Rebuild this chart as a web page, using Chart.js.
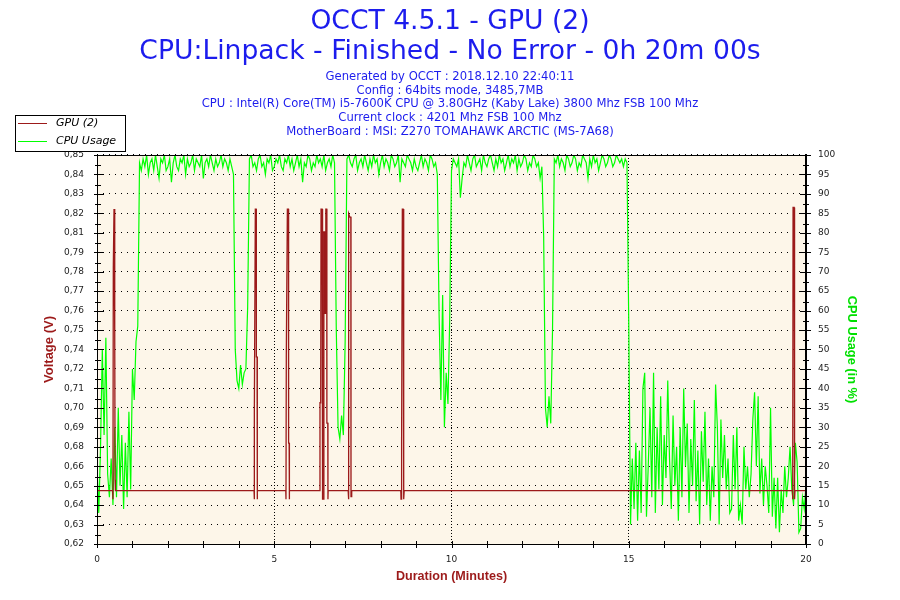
<!DOCTYPE html>
<html>
<head>
<meta charset="utf-8">
<title>OCCT 4.5.1 - GPU (2)</title>
<script src="https://cdn.jsdelivr.net/npm/chart.js@4.4.0/dist/chart.umd.min.js"></script>
<style>
    html, body { margin: 0; padding: 0; background: #fff; }
    #wrap { width: 900px; height: 600px; }
</style>
</head>
<body>
<div id="wrap"><canvas id="occt" width="900" height="600"></canvas></div>
<script>
/* ==================
    DATOS
================== */

const titleLines = ['OCCT 4.5.1 - GPU (2)', 'CPU:Linpack - Finished - No Error - 0h 20m 00s'];
const infoLines = [
    'Generated by OCCT : 2018.12.10 22:40:11',
    'Config : 64bits mode, 3485,7MB',
    'CPU : Intel(R) Core(TM) i5-7600K CPU @ 3.80GHz (Kaby Lake) 3800 Mhz FSB 100 Mhz',
    'Current clock : 4201 Mhz FSB 100 Mhz',
    'MotherBoard : MSI: Z270 TOMAHAWK ARCTIC (MS-7A68)'
];

// GPU (2) voltage, time in minutes
const gpuTime = [
    0, 0.44, 0.45, 0.46, 0.48, 0.50, 0.51, 0.52,
    4.43, 4.437, 4.44, 4.466, 4.49, 4.495, 4.515, 4.52, 4.525,
    5.325, 5.331, 5.34, 5.37, 5.40, 5.405, 5.42, 5.425, 5.43,
    6.285, 6.29, 6.31, 6.32, 6.35, 6.355, 6.37, 6.395, 6.40, 6.43, 6.435, 6.455, 6.48, 6.485, 6.51, 6.515, 6.52,
    7.085, 7.09, 7.10, 7.105, 7.13, 7.16, 7.165, 7.18, 7.185,
    8.57, 8.576, 8.585, 8.60, 8.613, 8.635, 8.64, 8.655, 8.66, 8.665,
    19.62, 19.625, 19.635, 19.665, 19.67, 19.685, 19.69, 20
];
const gpuVolt = [
    0.6515, 0.6515, 0.6465, 0.783, 0.818, 0.745, 0.658, 0.6515,
    0.6515, 0.6465, 0.6975, 0.818, 0.818, 0.7306, 0.7306, 0.6465, 0.6515,
    0.6515, 0.6465, 0.7306, 0.818, 0.818, 0.6797, 0.6797, 0.6465, 0.6515,
    0.6515, 0.7035, 0.7035, 0.818, 0.818, 0.6608, 0.6465, 0.6465, 0.8046, 0.8046, 0.7563, 0.818, 0.818, 0.6915, 0.6915, 0.6465, 0.6515,
    0.6515, 0.6465, 0.6465, 0.8153, 0.8133, 0.8133, 0.648, 0.648, 0.6515,
    0.6515, 0.6465, 0.6797, 0.6797, 0.818, 0.818, 0.7719, 0.7719, 0.6465, 0.6515,
    0.6515, 0.6465, 0.819, 0.819, 0.693, 0.6465, 0.6515, 0.6515
];

// CPU usage (%), one value every 0.05 min, one row per minute
const cpuStepMin = 0.05;
const cpuUsage = [
    20, 8, 25, 50, 28, 53, 18, 12, 22, 10, 30, 12, 35, 15, 28, 9, 26, 12, 34, 14,
    45, 37, 52, 56, 98, 96, 99, 97, 100, 95, 98, 99, 96, 100, 97, 94, 99, 98, 100, 96,
    97, 99, 93, 98, 100, 97, 96, 99, 98, 100, 95, 99, 97, 98, 100, 96, 99, 98, 97, 100,
    94, 98, 99, 97, 100, 98, 96, 99, 97, 98, 100, 97, 99, 98, 96, 99, 97, 95, 50, 42,
    40, 46, 41, 44, 45, 61, 99, 100, 97, 98, 96, 99, 100, 97, 98, 95, 99, 98, 100, 96,
    97, 99, 98, 100, 97, 96, 99, 98, 100, 97, 99, 96, 98, 100, 97, 99, 93, 98, 97, 100,
    99, 96, 98, 97, 100, 98, 99, 97, 100, 96, 98, 99, 97, 100, 98, 55, 30, 27, 33, 28,
    52, 99, 100, 98, 97, 99, 100, 96, 98, 99, 97, 100, 98, 96, 99, 97, 100, 98, 99, 95,
    98, 100, 97, 99, 98, 96, 100, 99, 97, 98, 100, 93, 99, 98, 97, 100, 99, 98, 96, 99,
    97, 96, 98, 100, 97, 99, 98, 96, 100, 99, 97, 98, 95, 59, 37, 64, 30, 44, 36, 58,
    96, 99, 98, 97, 99, 89, 94, 98, 97, 100, 98, 96, 99, 100, 97, 98, 99, 96, 100, 98,
    97, 99, 100, 98, 96, 99, 97, 100, 98, 99, 96, 98, 100, 97, 99, 98, 100, 96, 99, 97,
    98, 100, 99, 96, 98, 97, 100, 99, 97, 98, 94, 97, 79, 35, 30, 38, 31, 55, 99, 98,
    100, 97, 99, 98, 96, 100, 99, 97, 98, 100, 99, 96, 98, 97, 100, 99, 98, 94, 99, 97,
    100, 98, 99, 96, 98, 100, 99, 97, 98, 100, 99, 97, 98, 100, 99, 98, 99, 97, 99, 98,
    57, 5, 22, 9, 26, 6, 24, 8, 40, 44, 7, 20, 35, 12, 44, 8, 30, 14, 38, 10,
    28, 17, 42, 22, 9, 33, 15, 25, 6, 30, 12, 40, 20, 31, 8, 27, 15, 37, 11, 24,
    5, 29, 16, 34, 10, 22, 6, 20, 12, 41, 30, 5, 32, 17, 28, 14, 22, 8, 9, 28,
    14, 30, 6, 10, 5, 25, 14, 20, 12, 18, 32, 39, 20, 38, 13, 22, 10, 20, 15, 8,
    35, 7, 17, 4, 17, 3, 14, 8, 20, 12, 17, 25, 14, 10, 26, 21, 3, 4, 12, 9,
    15
];

// Voltage axis: 20 divisions between min and max, labels as OCCT prints them
const voltMin = 0.62;
const voltMax = 0.85;
const voltTickLabels = ['0,62', '0,63', '0,64', '0,65', '0,66', '0,68', '0,69', '0,70', '0,71', '0,72', '0,74',
    '0,75', '0,76', '0,77', '0,78', '0,79', '0,81', '0,82', '0,83', '0,84', '0,85'];
const durationLabelEvery = 5;

/* ==================
    ESTILO
================== */

const azul = '#1c1ced';
const rojo = '#9c1a1a';
const verde = '#00ff00';
const fondo = '#fdf6e9';
const fuente = "'DejaVu Sans', Verdana, sans-serif";
const fuenteEje = "'Liberation Sans', Arial, sans-serif";

// Fondo del area, marco, marcas de escala y leyenda
const marcoOCCT = {
    id: 'marcoOCCT',
    beforeDraw(chart) {
        const { ctx, chartArea: a } = chart;
        ctx.save();
        ctx.fillStyle = fondo;
        ctx.fillRect(a.left, a.top, a.right - a.left, a.bottom - a.top);
        ctx.restore();
    },
    afterDraw(chart) {
        const { ctx, chartArea: a, scales } = chart;
        ctx.save();
        ctx.strokeStyle = '#000';
        ctx.lineWidth = 1;
        ctx.strokeRect(a.left + 0.5, a.top + 0.5, a.right - a.left - 1, a.bottom - a.top);

        // marcas verticales (izquierda y derecha)
        const yC = scales.yC;
        const ys = yC.ticks.map(t => Math.round(yC.getPixelForValue(t.value)) + 0.5);
        ctx.beginPath();
        ys.forEach((y, i) => {
            ctx.moveTo(a.left - 3, y); ctx.lineTo(a.left + 7, y);
            ctx.moveTo(a.right - 6, y); ctx.lineTo(a.right + 5, y);
            if (i < ys.length - 1) {
                const m = Math.round((y + ys[i + 1]) / 2) + 0.5;
                ctx.moveTo(a.left - 2, m); ctx.lineTo(a.left + 4, m);
                ctx.moveTo(a.right - 3, m); ctx.lineTo(a.right + 3, m);
            }
        });
        // marcas horizontales (cada minuto)
        const x = scales.x;
        x.ticks.forEach(t => {
            const px = Math.round(x.getPixelForValue(t.value)) + 0.5;
            ctx.moveTo(px, a.bottom - 3); ctx.lineTo(px, a.bottom + 4);
        });
        ctx.stroke();

        // leyenda
        const lx = 15, ly = 115, lw = 110, lh = 36;
        ctx.fillStyle = '#fff';
        ctx.fillRect(lx, ly, lw, lh);
        ctx.strokeRect(lx + 0.5, ly + 0.5, lw, lh);
        ctx.font = 'italic 11px ' + fuente;
        ctx.textBaseline = 'middle';
        chart.data.datasets.forEach((ds, i) => {
            const yy = ly + 8.5 + i * 18;
            ctx.strokeStyle = ds.borderColor;
            ctx.beginPath();
            ctx.moveTo(lx + 3, yy); ctx.lineTo(lx + 32, yy);
            ctx.stroke();
            ctx.fillStyle = '#000';
            ctx.fillText(ds.label, lx + 41, yy);
        });
        ctx.restore();
    }
};

/* ==================
    GRAFICA
================== */

const ctx = document.getElementById('occt').getContext('2d');
new Chart(ctx, {
    type: 'line',
    data: {
        datasets: [{
            label: 'GPU (2)',
            data: gpuTime.map((t, i) => ({ x: t, y: gpuVolt[i] })),
            yAxisID: 'yV',
            borderColor: rojo,
            borderWidth: 1.3,
            pointRadius: 0,
            tension: 0
        }, {
            label: 'CPU Usage',
            data: cpuUsage.map((v, i) => ({ x: i * cpuStepMin, y: v })),
            yAxisID: 'yC',
            borderColor: verde,
            borderWidth: 1.2,
            pointRadius: 0,
            tension: 0
        }]
    },
    options: {
        responsive: false,
        animation: false,
        devicePixelRatio: 1,
        layout: { padding: 0 },
        plugins: {
            legend: { display: false },
            tooltip: { enabled: false },
            title: {
                display: true,
                text: titleLines,
                color: azul,
                font: { family: fuente, size: 26.6, weight: 'normal', lineHeight: 1.128 },
                padding: { top: 7, bottom: 0 }
            },
            subtitle: {
                display: true,
                text: infoLines,
                color: azul,
                font: { family: fuente, size: 11.6, weight: 'normal', lineHeight: 1.185 },
                padding: { top: 3, bottom: 16.25 }
            }
        },
        scales: {
            x: {
                type: 'linear',
                min: 0,
                max: 20,
                afterFit: s => { s.height = 56; },
                ticks: {
                    stepSize: 1,
                    autoSkip: false,
                    maxRotation: 0,
                    padding: 10,
                    color: '#222',
                    font: { family: fuente, size: 9 },
                    callback: v => (v % durationLabelEvery === 0 ? String(v) : '')
                },
                grid: {
                    drawTicks: false,
                    color: c => (c.tick && c.tick.value % durationLabelEvery === 0 && c.tick.value > 0 && c.tick.value < 20) ? '#000' : 'rgba(0,0,0,0)'
                },
                border: { color: '#000', dash: [1, 2] },
                title: {
                    display: true,
                    text: 'Duration (Minutes)',
                    color: rojo,
                    font: { family: fuenteEje, size: 12.6, weight: 'bold', lineHeight: 1.2 },
                    padding: { top: 0, bottom: 16 }
                }
            },
            yV: {
                type: 'linear',
                position: 'left',
                min: voltMin,
                max: voltMax,
                afterFit: s => { s.width = 97; },
                afterBuildTicks: s => {
                    const paso = (voltMax - voltMin) / (voltTickLabels.length - 1);
                    s.ticks = voltTickLabels.map((_, i) => ({ value: voltMin + i * paso }));
                },
                ticks: {
                    autoSkip: false,
                    padding: 13,
                    color: '#222',
                    font: { family: fuente, size: 9 },
                    callback: (v, i) => voltTickLabels[i]
                },
                grid: { display: false, drawTicks: false },
                border: { color: '#000' },
                title: {
                    display: true,
                    text: 'Voltage (V)',
                    color: rojo,
                    font: { family: fuenteEje, size: 13, weight: 'bold', lineHeight: 1.2 },
                    padding: { top: 42, bottom: 0 }
                }
            },
            yC: {
                type: 'linear',
                position: 'right',
                min: 0,
                max: 100,
                afterFit: s => { s.width = 94; },
                ticks: {
                    stepSize: 5,
                    autoSkip: false,
                    padding: 12,
                    color: '#222',
                    font: { family: fuente, size: 9 }
                },
                grid: {
                    drawTicks: false,
                    color: '#000'
                },
                border: { color: '#000', dash: [1, 5] },
                title: {
                    display: true,
                    text: 'CPU Usage (in %)',
                    color: '#00e000',
                    font: { family: fuenteEje, size: 12.8, weight: 'bold', lineHeight: 1.2 },
                    padding: { top: 41, bottom: 0 }
                }
            }
        }
    },
    plugins: [marcoOCCT]
});
</script>
</body>
</html>
